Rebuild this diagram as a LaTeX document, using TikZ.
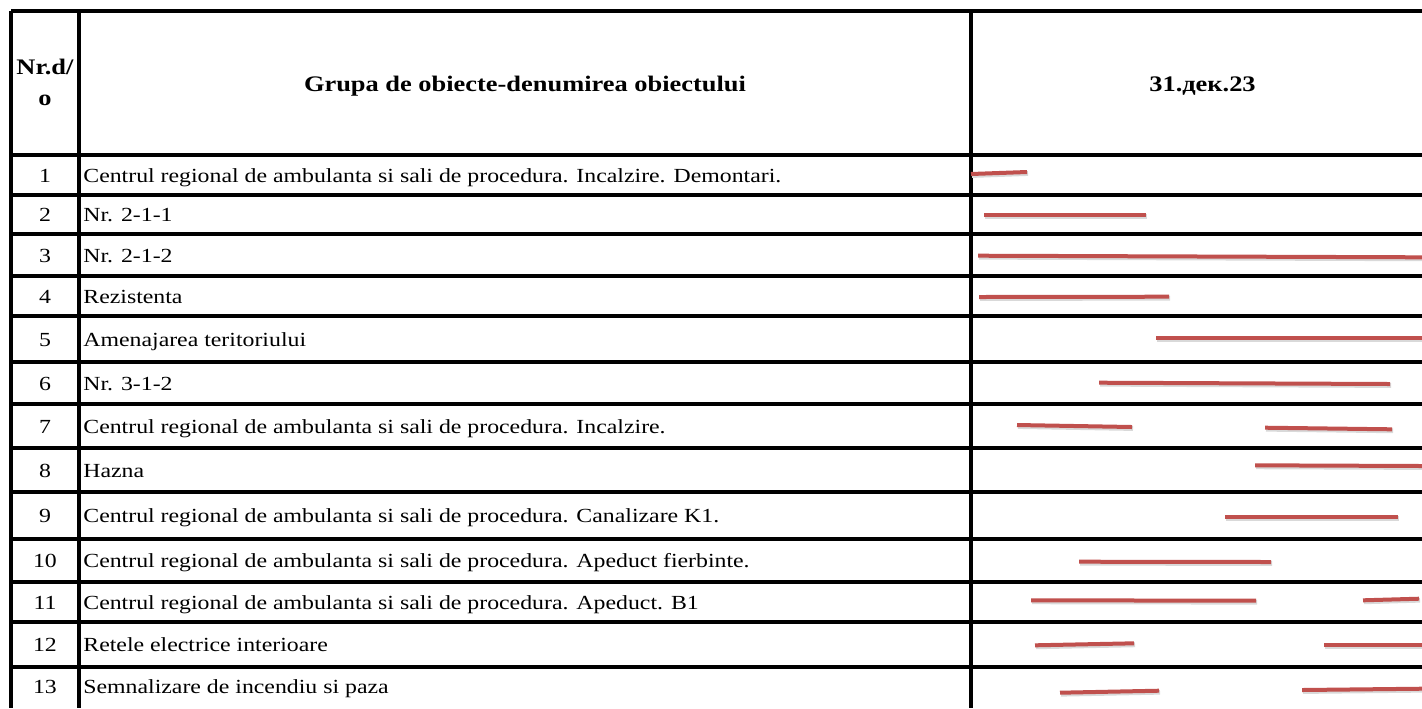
\documentclass[tikz,border=0pt]{standalone}
\usepackage{fontspec}
\setmainfont[FakeStretch=1.19]{Liberation Serif}
\usetikzlibrary{positioning,calc}
\definecolor{barred}{HTML}{C0504D}
\newcommand \mybar[4]
{
\draw[barshadow] ($(#1,#2)+(1,1.5)$)--($(#3,#4)+(1,1.5)$);
\draw[bar] (#1,#2)--(#3,#4);
}
\newcommand \myrow[4]
{
\node[nrtext]  (n#1) at (45,#2+7) {#3};
\node[rowtext] (t#1) at (83,#2+7) {#4};
}

\begin{document}
\begin{tikzpicture}[x=0.5pt, y=-0.5pt, line join=round,
  rule/.style={line width=1.65pt, black},
  border/.style={line width=2pt, black},
  bar/.style={line width=2pt, barred},
  barshadow/.style={line width=2.4pt, black!15},
  rowtext/.style={anchor=base west, inner sep=0pt, font=\fontsize{10}{12}\selectfont},
  nrtext/.style={anchor=base, inner sep=0pt, font=\fontsize{10}{12}\selectfont},
  headtext/.style={anchor=base, inner sep=0pt, font=\fontsize{11.1}{13}\selectfont\bfseries}]
\useasboundingbox (0,0) rectangle (1422,708);
% table frame
\draw[border] (11,11)--(1422,11);
\draw[border] (11,11)--(11,708);
\draw[rule] (79,11)--(79,708);
\draw[rule] (971,11)--(971,708);
\draw[rule] (11,155)--(1422,155) (11,195)--(1422,195) (11,234)--(1422,234)
            (11,276)--(1422,276) (11,316)--(1422,316) (11,362)--(1422,362)
            (11,404)--(1422,404) (11,448)--(1422,448) (11,492)--(1422,492)
            (11,539)--(1422,539) (11,582)--(1422,582) (11,622)--(1422,622)
            (11,667)--(1422,667);
% header
\node[headtext] (hnr)   at (45,74.5)   {Nr.d/};
\node[headtext] (hnro)  at (45,105)    {o};
\node[headtext] (hgrp)  at (525,91.7)  {Grupa de obiecte-denumirea obiectului};
\node[headtext] (hdate) at (1202.5,91.5) {31.дек.23};
% rows
\myrow{1}{175}{1}{Centrul regional de ambulanta si sali de procedura. Incalzire. Demontari.}
\myrow{2}{214.5}{2}{Nr. 2-1-1}
\myrow{3}{255}{3}{Nr. 2-1-2}
\myrow{4}{296}{4}{Rezistenta}
\myrow{5}{339}{5}{Amenajarea teritoriului}
\myrow{6}{383}{6}{Nr. 3-1-2}
\myrow{7}{426}{7}{Centrul regional de ambulanta si sali de procedura. Incalzire.}
\myrow{8}{470}{8}{Hazna}
\myrow{9}{515.5}{9}{Centrul regional de ambulanta si sali de procedura. Canalizare K1.}
\myrow{10}{560.5}{10}{Centrul regional de ambulanta si sali de procedura. Apeduct fierbinte.}
\myrow{11}{602}{11}{Centrul regional de ambulanta si sali de procedura. Apeduct. B1}
\myrow{12}{644.5}{12}{Retele electrice interioare}
\myrow{13}{686.5}{13}{Semnalizare de incendiu si paza}
% bars
\mybar{971}{174}{1027}{172}
\mybar{984}{215}{1146}{215}
\mybar{978}{255.7}{1422}{257.3}
\mybar{979}{297}{1169}{296.7}
\mybar{1156}{337.7}{1422}{337.7}
\mybar{1099}{382.7}{1390}{384}
\mybar{1017}{425}{1132}{427}
\mybar{1265}{427.7}{1392}{429.3}
\mybar{1255}{465.3}{1422}{466}
\mybar{1225}{517}{1398}{517}
\mybar{1079}{561.7}{1271}{562}
\mybar{1031}{600.3}{1256}{600.7}
\mybar{1363}{600.3}{1419}{598.7}
\mybar{1035}{645.3}{1134}{643.3}
\mybar{1324}{645.3}{1422}{645.3}
\mybar{1060}{692.7}{1159}{690.7}
\mybar{1302}{690}{1422}{688.7}
\end{tikzpicture}
\end{document}
